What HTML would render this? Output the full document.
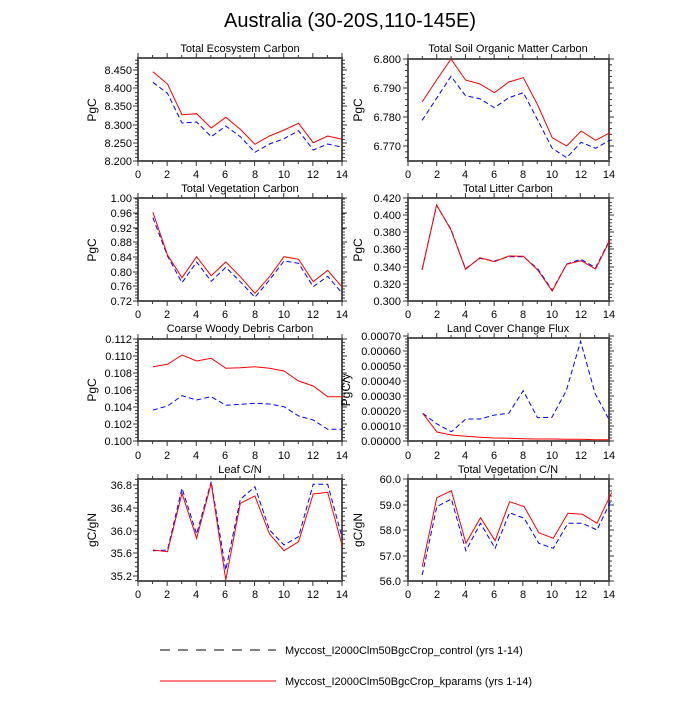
<!DOCTYPE html>
<html><head><meta charset="utf-8"><style>
html,body{margin:0;padding:0;background:#fff}
svg text{font-family:"Liberation Sans",sans-serif;fill:#000}
.t{font-size:11px}
</style></head><body>
<svg id="s" width="700" height="700" xmlns="http://www.w3.org/2000/svg">
<text x="350" y="27" font-size="20" text-anchor="middle">Australia (30-20S,110-145E)</text>
<g id="ticks"></g>
<g id="lines"></g>
<g font-size="11" text-anchor="middle">
<text x="240" y="52">Total Ecosystem Carbon</text>
<text x="508" y="52">Total Soil Organic Matter Carbon</text>
<text x="240" y="192">Total Vegetation Carbon</text>
<text x="508" y="192">Total Litter Carbon</text>
<text x="240" y="332">Coarse Woody Debris Carbon</text>
<text x="508" y="332">Land Cover Change Flux</text>
<text x="240" y="473">Leaf C/N</text>
<text x="508" y="473">Total Vegetation C/N</text>
</g>
<g font-size="12" text-anchor="middle">
<text transform="translate(96,110) rotate(-90)">PgC</text>
<text transform="translate(362,110) rotate(-90)">PgC</text>
<text transform="translate(96,250) rotate(-90)">PgC</text>
<text transform="translate(362,250) rotate(-90)">PgC</text>
<text transform="translate(96,390) rotate(-90)">PgC</text>
<text transform="translate(350,390) rotate(-90)">PgC/y</text>
<text transform="translate(96,530) rotate(-90)">gC/gN</text>
<text transform="translate(362,530) rotate(-90)">gC/gN</text>
</g>
<g class="t" text-anchor="end">
<text x="132" y="165">8.200</text><text x="132" y="147">8.250</text><text x="132" y="129">8.300</text><text x="132" y="110">8.350</text><text x="132" y="92">8.400</text><text x="132" y="74">8.450</text>
<text x="401" y="150">6.770</text><text x="401" y="121">6.780</text><text x="401" y="92">6.790</text><text x="401" y="63">6.800</text>
<text x="132" y="305">0.72</text><text x="132" y="290">0.76</text><text x="132" y="276">0.80</text><text x="132" y="261">0.84</text><text x="132" y="246">0.88</text><text x="132" y="232">0.92</text><text x="132" y="217">0.96</text><text x="132" y="202">1.00</text>
<text x="401" y="305">0.300</text><text x="401" y="288">0.320</text><text x="401" y="271">0.340</text><text x="401" y="253">0.360</text><text x="401" y="236">0.380</text><text x="401" y="219">0.400</text><text x="401" y="202">0.420</text>
<text x="132" y="445">0.100</text><text x="132" y="428">0.102</text><text x="132" y="411">0.104</text><text x="132" y="394">0.106</text><text x="132" y="377">0.108</text><text x="132" y="360">0.110</text><text x="132" y="343">0.112</text>
<text x="401" y="445">0.00000</text><text x="401" y="430">0.00010</text><text x="401" y="415">0.00020</text><text x="401" y="400">0.00030</text><text x="401" y="385">0.00040</text><text x="401" y="370">0.00050</text><text x="401" y="355">0.00060</text><text x="401" y="340">0.00070</text>
<text x="132" y="580">35.2</text><text x="132" y="557">35.6</text><text x="132" y="535">36.0</text><text x="132" y="512">36.4</text><text x="132" y="489">36.8</text>
<text x="401" y="585">56.0</text><text x="401" y="560">57.0</text><text x="401" y="534">58.0</text><text x="401" y="509">59.0</text><text x="401" y="483">60.0</text>
</g>
<g class="t" text-anchor="middle">
<g><text x="138" y="178">0</text><text x="167" y="178">2</text><text x="196" y="178">4</text><text x="225" y="178">6</text><text x="255" y="178">8</text><text x="284" y="178">10</text><text x="313" y="178">12</text><text x="342" y="178">14</text></g>
<g><text x="408" y="178">0</text><text x="437" y="178">2</text><text x="465" y="178">4</text><text x="494" y="178">6</text><text x="523" y="178">8</text><text x="552" y="178">10</text><text x="581" y="178">12</text><text x="609" y="178">14</text></g>
<g><text x="138" y="318">0</text><text x="167" y="318">2</text><text x="196" y="318">4</text><text x="225" y="318">6</text><text x="255" y="318">8</text><text x="284" y="318">10</text><text x="313" y="318">12</text><text x="342" y="318">14</text></g>
<g><text x="408" y="318">0</text><text x="437" y="318">2</text><text x="465" y="318">4</text><text x="494" y="318">6</text><text x="523" y="318">8</text><text x="552" y="318">10</text><text x="581" y="318">12</text><text x="609" y="318">14</text></g>
<g><text x="138" y="459">0</text><text x="167" y="459">2</text><text x="196" y="459">4</text><text x="225" y="459">6</text><text x="255" y="459">8</text><text x="284" y="459">10</text><text x="313" y="459">12</text><text x="342" y="459">14</text></g>
<g><text x="408" y="459">0</text><text x="437" y="459">2</text><text x="465" y="459">4</text><text x="494" y="459">6</text><text x="523" y="459">8</text><text x="552" y="459">10</text><text x="581" y="459">12</text><text x="609" y="459">14</text></g>
<g><text x="138" y="598">0</text><text x="167" y="598">2</text><text x="196" y="598">4</text><text x="225" y="598">6</text><text x="255" y="598">8</text><text x="284" y="598">10</text><text x="313" y="598">12</text><text x="342" y="598">14</text></g>
<g><text x="408" y="598">0</text><text x="437" y="598">2</text><text x="465" y="598">4</text><text x="494" y="598">6</text><text x="523" y="598">8</text><text x="552" y="598">10</text><text x="581" y="598">12</text><text x="609" y="598">14</text></g>
</g>
<line x1="160" y1="650" x2="276" y2="650" stroke="#000" stroke-width="1" stroke-dasharray="10,8"/>
<text x="285" y="654" font-size="11">Myccost_I2000Clm50BgcCrop_control (yrs 1-14)</text>
<line x1="160" y1="681" x2="276" y2="681" stroke="#f00" stroke-width="1"/>
<text x="285" y="685" font-size="11">Myccost_I2000Clm50BgcCrop_kparams (yrs 1-14)</text>
</svg>
<script>
(function(){
var NS="http://www.w3.org/2000/svg";
function el(p,n,a){var e=document.createElementNS(NS,n);for(var k in a)e.setAttribute(k,a[k]);p.appendChild(e);return e;}
var T=document.getElementById('ticks'),L=document.getElementById('lines');
var P=[
[138,342,58,161,80,40,175,43.71,[161,143,125,106,88,70],[95,132,224,221,264,232,268,313,288,270,250,308,288,298],[127,160,249,246,290,258,290,337,312,296,272,330,312,322]],
[408,609,59,161,340,40,203,43.36,[146,117,88,59],[186,120,57,120,132,158,126,113,195,293,318,273,301,278],[241,175,109,167,176,203,173,158,240,325,353,307,325,300]],
[138,342,198,301,80,180,175,43.71,[301,286,272,257,242,228,213,198],[97,225,293,230,287,246,290,340,290,230,238,305,271,322],[113,228,308,246,304,262,305,352,300,243,250,320,289,340]],
[408,609,198,301,340,180,203,43.36,[301,284,267,249,232,215,198],[270,75,150,268,233,245,228,229,270,333,253,242,267,180],[268,76,148,266,235,243,230,230,266,331,252,238,263,178]],
[138,342,339,441,80,320,175,43.71,[441,424,407,390,373,356,339],[140,133,105,123,115,145,143,140,145,153,183,198,230,230],[270,258,227,240,230,256,253,250,252,260,288,300,328,328]],
[408,609,338,441,340,350,205,43.07,[441,426,411,396,381,366,351,336],[190,246,255,259,262,264,265,266,267,267,268,268,269,269],[190,222,245,207,207,195,190,122,203,202,122,-26,130,210]],
[138,342,479,581,80,460,175,43.71,[576,553,531,508,485],[270,275,100,235,70,360,130,108,222,272,245,102,97,258],[272,270,85,222,65,330,118,80,210,255,230,73,73,235]],
[408,609,479,581,340,460,203,43.7,[581,556,530,505,479],[320,113,92,250,173,242,125,140,218,235,160,163,190,98],[345,140,117,272,190,265,158,175,250,265,190,190,210,118]]
];
P.forEach(function(p){
 var x0=p[0],x1=p[1],t=p[2],b=p[3];
 el(T,'rect',{x:x0,y:t,width:x1-x0,height:b-t,fill:'none',stroke:'#555','stroke-width':2});
 for(var i=0;i<=14;i++){var x=x0+(x1-x0)*i/14,l=(i%2==0)?5:3;
  el(T,'line',{x1:x,y1:b,x2:x,y2:b+l,stroke:'#333'});el(T,'line',{x1:x,y1:t,x2:x,y2:t-l,stroke:'#333'});}
 var yt=p[8],st=(yt[0]-yt[1]);
 for(var j=0;j<yt.length;j++){var y=yt[j];
  el(T,'line',{x1:x0-5,y1:y,x2:x0,y2:y,stroke:'#333'});el(T,'line',{x1:x1,y1:y,x2:x1+5,y2:y,stroke:'#333'});}
 for(var k=-10;k<60;k++){var y=yt[0]-k*st/5;if(y<t-0.5||y>b+0.5)continue;if(k%5==0)continue;
  el(T,'line',{x1:x0-3,y1:y,x2:x0,y2:y,stroke:'#333'});el(T,'line',{x1:x1,y1:y,x2:x1+3,y2:y,stroke:'#333'});}
 function pts(a){return a.map(function(v,i){return (p[4]+(p[6]+p[7]*(i+1))/3).toFixed(1)+','+(p[5]+v/3).toFixed(1);}).join(' ');}
 el(L,'polyline',{points:pts(p[10]),fill:'none',stroke:'#00f','stroke-width':1,'stroke-dasharray':'5,3'});
 el(L,'polyline',{points:pts(p[9]),fill:'none',stroke:'#f00','stroke-width':1});
});
})();
</script>
</body></html>
